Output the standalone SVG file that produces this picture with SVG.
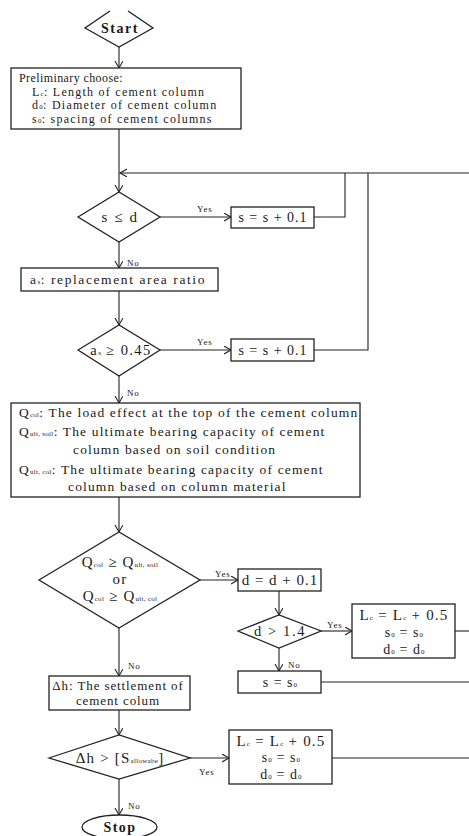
<svg xmlns="http://www.w3.org/2000/svg" width="469" height="836" viewBox="0 0 469 836">
<defs>
<marker id="arr" markerUnits="userSpaceOnUse" markerWidth="10" markerHeight="10" refX="7" refY="4" orient="auto">
<path d="M0,0 L7,4 L0,8" fill="none" stroke="#222" stroke-width="1.1"/>
</marker>
<style>
.s{fill:#fff;stroke:#222;stroke-width:1.3}
.c{fill:none;stroke:#222;stroke-width:1.1}
.a{fill:none;stroke:#222;stroke-width:1.1;marker-end:url(#arr)}
text{font-family:"Liberation Serif","Times New Roman",serif;fill:#1a1a1a}
.t{font-size:12px;letter-spacing:1.25px}
.q{font-size:13.5px;letter-spacing:1.15px}
.m{font-size:14px;letter-spacing:1px;text-anchor:middle}
.l{font-size:9px;letter-spacing:0.8px}
.b{font-size:14px;font-weight:bold;letter-spacing:1.5px;text-anchor:middle}
.sub{font-size:7px;letter-spacing:0.3px}
</style>
</defs>
<g id="connectors">
<path class="a" d="M119,47 V68"/>
<path class="c" d="M119,129 V173"/>
<path class="a" d="M469,173 H120"/>
<path class="a" d="M119,173 V192"/>
<path class="a" d="M160,217 H231"/>
<path class="c" d="M314,217 H345 V173"/>
<path class="a" d="M119,242 V268"/>
<path class="a" d="M119,291 V325"/>
<path class="a" d="M160,350 H231"/>
<path class="c" d="M314,350 H368 V173"/>
<path class="a" d="M119,376 V403"/>
<path class="a" d="M119,497 V532"/>
<path class="a" d="M200,580 H238"/>
<path class="a" d="M279,591 V615"/>
<path class="a" d="M321,631 H352"/>
<path class="c" d="M455,631 H469"/>
<path class="a" d="M279,648 V671"/>
<path class="c" d="M321,682 H469"/>
<path class="a" d="M119,628 V676"/>
<path class="a" d="M119,710 V735"/>
<path class="a" d="M190,758 H229"/>
<path class="c" d="M332,758 H469"/>
<path class="a" d="M119,779 V815"/>
<text class="l" x="197" y="212">Yes</text>
<text class="l" x="127" y="266">No</text>
<text class="l" x="197" y="345">Yes</text>
<text class="l" x="127" y="396">No</text>
<text class="l" x="215" y="577">Yes</text>
<text class="l" x="327" y="628">Yes</text>
<text class="l" x="288" y="668">No</text>
<text class="l" x="128" y="669">No</text>
<text class="l" x="199" y="775">Yes</text>
<text class="l" x="128" y="809">No</text>
</g>
<g id="start">
<path class="s" d="M110,11 L85,28 L119,47 L153,28 L128,11" />
<text class="b" x="120" y="33">Start</text>
</g>
<g id="prelim">
<rect class="s" x="11" y="68" width="230" height="61"/>
<text class="t" x="19" y="82" style="letter-spacing:0.4px">Preliminary choose:</text>
<text class="t" x="32" y="95.5">L<tspan class="sub">c</tspan>: Length of cement column</text>
<text class="t" x="32" y="109">d<tspan class="sub">0</tspan>: Diameter of cement column</text>
<text class="t" x="32" y="122.5">s<tspan class="sub">0</tspan>: spacing of cement columns</text>
</g>
<g id="cond-s-d">
<polygon class="s" points="78,217 119,192 160,217 119,242"/>
<text class="m" x="120" y="222" style="font-size:15px;letter-spacing:1.6px">s ≤ d</text>
</g>
<g id="inc-s-1">
<rect class="s" x="231" y="207" width="83" height="21"/>
<text class="m" x="273" y="222">s = s + 0.1</text>
</g>
<g id="area-ratio">
<rect class="s" x="21" y="268" width="197" height="23"/>
<text class="t" x="30" y="284" style="font-size:13.5px;letter-spacing:1.6px">a<tspan class="sub">s</tspan>: replacement area ratio</text>
</g>
<g id="cond-as">
<polygon class="s" points="78,350 119,325 160,350 119,376"/>
<text class="m" x="121" y="355" style="font-size:14.5px;letter-spacing:1.4px">a<tspan class="sub">s</tspan> ≥ 0.45</text>
</g>
<g id="inc-s-2">
<rect class="s" x="231" y="339" width="83" height="22"/>
<text class="m" x="273" y="355">s = s + 0.1</text>
</g>
<g id="loads">
<rect class="s" x="11" y="403" width="349" height="94"/>
<text class="q" x="19" y="417">Q<tspan class="sub">col</tspan>: The load effect at the top of the cement column</text>
<text class="q" x="19" y="436">Q<tspan class="sub">ult, soil</tspan>: The ultimate bearing capacity of cement</text>
<text class="q" x="73" y="454">column based on soil condition</text>
<text class="q" x="19" y="474">Q<tspan class="sub">ult, col</tspan>: The ultimate bearing capacity of cement</text>
<text class="q" x="68" y="491">column based on column material</text>
</g>
<g id="cond-q">
<polygon class="s" points="39,580 119,532 200,580 119,628"/>
<text class="m" x="120" y="567" style="font-size:15px;letter-spacing:1.2px">Q<tspan class="sub">col</tspan> ≥ Q<tspan class="sub">ult, soil</tspan></text>
<text class="m" x="120" y="584" style="font-size:15px;letter-spacing:1.2px">or</text>
<text class="m" x="120" y="601" style="font-size:15px;letter-spacing:1.2px">Q<tspan class="sub">col</tspan> ≥ Q<tspan class="sub">ult, col</tspan></text>
</g>
<g id="inc-d">
<rect class="s" x="238" y="569" width="83" height="22"/>
<text class="m" x="280" y="585" style="font-size:15px">d = d + 0.1</text>
</g>
<g id="cond-d">
<polygon class="s" points="238,631 279,615 321,631 279,648"/>
<text class="m" x="280" y="636" style="font-size:14.5px;letter-spacing:1.6px">d &gt; 1.4</text>
</g>
<g id="inc-lc-1">
<rect class="s" x="352" y="604" width="103" height="54"/>
<text class="m" x="404" y="620" style="font-size:15px;letter-spacing:1.2px">L<tspan class="sub">c</tspan> = L<tspan class="sub">c</tspan> + 0.5</text>
<text class="m" x="404" y="637">s<tspan class="sub">0</tspan> = s<tspan class="sub">0</tspan></text>
<text class="m" x="404" y="654">d<tspan class="sub">0</tspan> = d<tspan class="sub">0</tspan></text>
</g>
<g id="reset-s">
<rect class="s" x="238" y="671" width="83" height="22"/>
<text class="m" x="280" y="687">s = s<tspan class="sub">0</tspan></text>
</g>
<g id="settlement">
<rect class="s" x="49" y="676" width="141" height="34"/>
<text class="m" x="118" y="690" style="font-size:13px;letter-spacing:0.9px">Δh: The settlement of</text>
<text class="m" x="118" y="705" style="font-size:13px;letter-spacing:0.9px">cement colum</text>
</g>
<g id="cond-h">
<polygon class="s" points="49,758 119,735 190,758 119,779"/>
<text class="m" x="120" y="763" style="font-size:15px;letter-spacing:1.2px">Δh &gt; [S<tspan class="sub">allowabe</tspan>]</text>
</g>
<g id="inc-lc-2">
<rect class="s" x="229" y="730" width="103" height="54"/>
<text class="m" x="281" y="746" style="font-size:15px;letter-spacing:1.2px">L<tspan class="sub">c</tspan> = L<tspan class="sub">c</tspan> + 0.5</text>
<text class="m" x="281" y="762">s<tspan class="sub">0</tspan> = s<tspan class="sub">0</tspan></text>
<text class="m" x="281" y="779">d<tspan class="sub">0</tspan> = d<tspan class="sub">0</tspan></text>
</g>
<g id="stop">
<ellipse class="s" cx="119.5" cy="827" rx="37.5" ry="12"/>
<text class="b" x="120" y="832">Stop</text>
</g>
</svg>
